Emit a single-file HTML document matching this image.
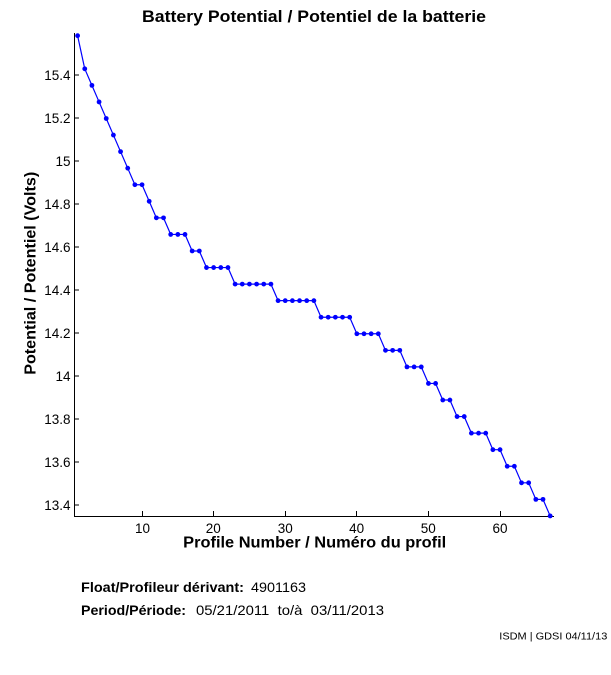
<!DOCTYPE html>
<html>
<head>
<meta charset="utf-8">
<style>
  html,body{margin:0;padding:0;background:#fff;}
  svg{display:block;}
  text{font-family:"Liberation Sans", Arial, sans-serif; fill:#000;}
</style>
</head>
<body>
<svg width="611" height="675" viewBox="0 0 611 675" xmlns="http://www.w3.org/2000/svg">
  <defs>
    <marker id="m" markerWidth="8" markerHeight="8" refX="4" refY="4" markerUnits="userSpaceOnUse">
      <circle cx="4" cy="4" r="2.4" fill="#0000ff"/>
    </marker>
  </defs>
  <rect width="611" height="675" fill="#fff"/>

  <!-- Title -->
  <text x="314" y="22" font-size="17" font-weight="bold" text-anchor="middle" textLength="344" lengthAdjust="spacingAndGlyphs">Battery Potential / Potentiel de la batterie</text>

  <!-- Axes -->
  <line x1="74.5" y1="33" x2="74.5" y2="516.5" stroke="#000" stroke-width="1"/>
  <line x1="74" y1="516.5" x2="554" y2="516.5" stroke="#000" stroke-width="1"/>

  <!-- Y ticks -->
  <g stroke="#000" stroke-width="1">
    <line x1="74" y1="505" x2="79" y2="505"/>
    <line x1="74" y1="462" x2="79" y2="462"/>
    <line x1="74" y1="419" x2="79" y2="419"/>
    <line x1="74" y1="376" x2="79" y2="376"/>
    <line x1="74" y1="333" x2="79" y2="333"/>
    <line x1="74" y1="290" x2="79" y2="290"/>
    <line x1="74" y1="247" x2="79" y2="247"/>
    <line x1="74" y1="204" x2="79" y2="204"/>
    <line x1="74" y1="161" x2="79" y2="161"/>
    <line x1="74" y1="118" x2="79" y2="118"/>
    <line x1="74" y1="75" x2="79" y2="75"/>
  </g>
  <g font-size="13.5" text-anchor="end">
    <text x="70.5" y="509.8">13.4</text>
    <text x="70.5" y="466.8">13.6</text>
    <text x="70.5" y="423.8">13.8</text>
    <text x="70.5" y="380.8">14</text>
    <text x="70.5" y="337.8">14.2</text>
    <text x="70.5" y="294.8">14.4</text>
    <text x="70.5" y="251.8">14.6</text>
    <text x="70.5" y="208.8">14.8</text>
    <text x="70.5" y="165.8">15</text>
    <text x="70.5" y="122.8">15.2</text>
    <text x="70.5" y="79.8">15.4</text>
  </g>

  <!-- X ticks -->
  <g stroke="#000" stroke-width="1">
    <line x1="142.5" y1="511" x2="142.5" y2="516"/>
    <line x1="213.5" y1="511" x2="213.5" y2="516"/>
    <line x1="285.5" y1="511" x2="285.5" y2="516"/>
    <line x1="356.5" y1="511" x2="356.5" y2="516"/>
    <line x1="428.5" y1="511" x2="428.5" y2="516"/>
    <line x1="500.5" y1="511" x2="500.5" y2="516"/>
  </g>
  <g font-size="13.5" text-anchor="middle">
    <text x="142.5" y="533">10</text>
    <text x="213.3" y="533">20</text>
    <text x="285.3" y="533">30</text>
    <text x="356.7" y="533">40</text>
    <text x="428.3" y="533">50</text>
    <text x="500" y="533">60</text>
  </g>

  <!-- Axis labels -->
  <text x="314.7" y="547.3" font-size="16" font-weight="bold" text-anchor="middle" textLength="263" lengthAdjust="spacingAndGlyphs">Profile Number / Numéro du profil</text>
  <text transform="translate(35.7,273.3) rotate(-90)" font-size="16" font-weight="bold" text-anchor="middle" textLength="203" lengthAdjust="spacingAndGlyphs">Potential / Potentiel (Volts)</text>

  <!-- Data series -->
  <polyline fill="none" stroke="#0000ff" stroke-width="1.2" stroke-linejoin="round"
    marker-start="url(#m)" marker-mid="url(#m)" marker-end="url(#m)"
    points="77.6,35.7 84.76,68.82 91.92,85.38 99.08,101.94 106.24,118.5 113.4,135.06 120.56,151.62 127.72,168.18 134.88,184.74 142.04,184.74 149.2,201.3 156.36,217.86 163.52,217.86 170.68,234.42 177.84,234.42 185.0,234.42 192.16,250.98 199.32,250.98 206.48,267.54 213.64,267.54 220.8,267.54 227.96,267.54 235.12,284.1 242.28,284.1 249.44,284.1 256.6,284.1 263.76,284.1 270.92,284.1 278.08,300.66 285.24,300.66 292.4,300.66 299.56,300.66 306.72,300.66 313.88,300.66 321.04,317.22 328.2,317.22 335.36,317.22 342.52,317.22 349.68,317.22 356.84,333.78 364.0,333.78 371.16,333.78 378.32,333.78 385.48,350.34 392.64,350.34 399.8,350.34 406.96,366.9 414.12,366.9 421.28,366.9 428.44,383.46 435.6,383.46 442.76,400.02 449.92,400.02 457.08,416.58 464.24,416.58 471.4,433.14 478.56,433.14 485.72,433.14 492.88,449.7 500.04,449.7 507.2,466.26 514.36,466.26 521.52,482.82 528.68,482.82 535.84,499.38 543.0,499.38 550.16,515.94"/>

  <!-- Footer -->
  <text x="81" y="592" font-size="14" font-weight="bold" textLength="163" lengthAdjust="spacingAndGlyphs">Float/Profileur dérivant:</text>
  <text x="251" y="592" font-size="14" textLength="55" lengthAdjust="spacingAndGlyphs">4901163</text>
  <text x="81" y="615" font-size="14" font-weight="bold" textLength="105" lengthAdjust="spacingAndGlyphs">Period/Période:</text>
  <text x="196" y="615" font-size="14" textLength="188" lengthAdjust="spacingAndGlyphs" xml:space="preserve">05/21/2011  to/à  03/11/2013</text>

  <text x="499.3" y="639.3" font-size="10" textLength="108" lengthAdjust="spacingAndGlyphs">ISDM | GDSI 04/11/13</text>
</svg>
</body>
</html>
